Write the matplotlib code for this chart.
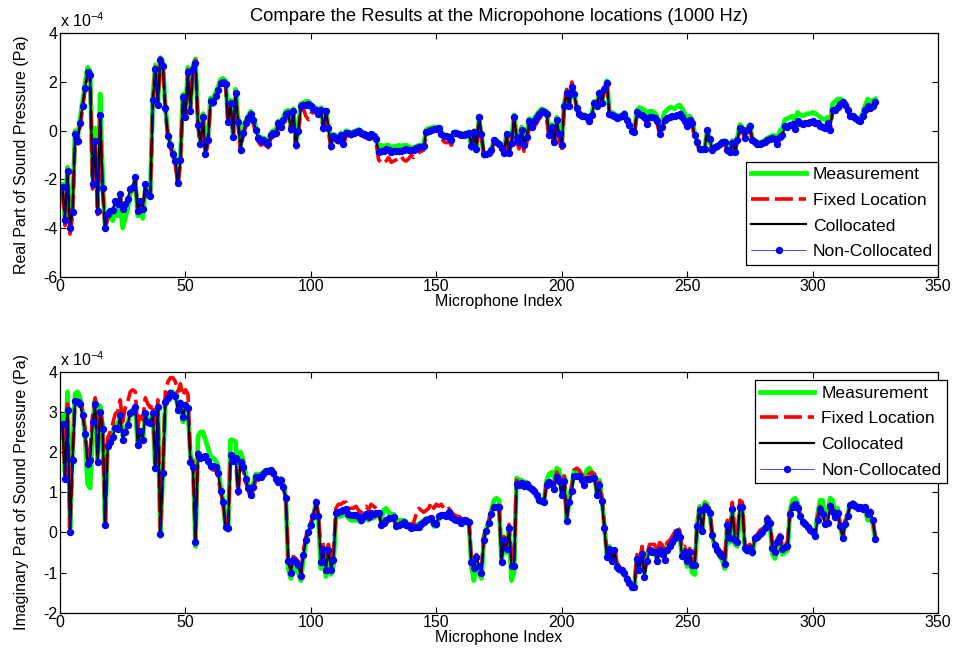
import numpy as np
import matplotlib.pyplot as plt

plt.rcParams['font.family'] = ['Liberation Sans', 'DejaVu Sans']
plt.rcParams['mathtext.fontset'] = 'custom'
plt.rcParams['mathtext.rm'] = 'Liberation Sans'
plt.rcParams['axes.unicode_minus'] = False

"""
data (values in units of 1e-4 Pa, one value per microphone)
"""

title = 'Compare the Results at the Micropohone locations (1000 Hz)'
labels = ['Measurement', 'Fixed Location', 'Collocated', 'Non-Collocated']

# --- real part ---
measurement_re = [
    -2.2, -3.5, -1.5, -3.9, -3.2, 0.0, -0.3, 0.5, 1.2, 1.95,
    2.6, 2.45, -1.9, 0.1, -3.1, 1.5, -2.0, -3.9, -3.6, -3.5,
    -3.7, -3.3, -3.5, -3.0, -4.0, -3.6, -3.2, -2.6, -2.4, -2.0,
    -3.5, -3.3, -3.6, -2.4, -2.7, -2.6, 1.4, 2.7, 1.2, 3.0,
    2.8, 1.0, -0.1, -0.5, -0.85, -1.1, -2.0, -1.1, 1.5, 0.7,
    2.6, 1.0, 2.65, 2.95, 0.4, -0.4, 0.7, -0.8, -0.25, 1.35,
    1.3, 1.55, 1.8, 2.1, 2.15, 2.05, 0.5, 1.25, -0.1, 1.7,
    0.5, -0.6, 0.05, 0.4, 0.6, 0.8, 0.55, 0.15, -0.2, -0.3,
    -0.3, -0.35, -0.45, -0.1, 0.0, 0.0, 0.4, 0.3, 0.55, 0.8,
    0.85, 0.2, 0.9, -0.5, 0.1, 1.1, 1.15, 1.2, 1.2, 1.1,
    1.0, 0.95, 0.8, 0.95, 0.2, 0.85, 0.2, -0.55, -0.15, -0.2,
    -0.3, -0.1, -0.45, 0.0, -0.05, -0.1, -0.05, 0.0, 0.05, -0.05,
    -0.1, -0.15, -0.2, -0.1, -0.15, -0.3, -0.75, -0.6, -0.65, -0.6,
    -0.6, -0.7, -0.65, -0.65, -0.6, -0.65, -0.6, -0.6, -0.65, -0.7,
    -0.7, -0.65, -0.6, -0.6, -0.55, 0.05, 0.1, 0.12, 0.15, 0.15,
    0.15, -0.1, -0.2, -0.2, -0.2, -0.35, -0.05, -0.05, -0.1, -0.15,
    -0.1, -0.1, -0.05, -0.7, 0.0, -0.85, 0.5, -0.2, -1.05, -1.0,
    -0.95, -0.8, -0.35, -0.4, -0.5, -0.7, -0.9, -0.1, -0.85, -0.4,
    0.65, -0.15, -0.35, 0.15, -0.45, -0.1, 0.5, 0.3, 0.5, 0.65,
    0.8, 0.9, 0.85, 0.8, -0.05, 0.25, -0.35, 0.55, 0.0, -0.45,
    1.1, 1.6, 1.05, 1.8, 1.5, 0.95, 0.75, 0.65, 0.65, 0.6,
    0.45, 0.7, 1.2, 1.05, 1.6, 1.2, 1.75, 2.05, 0.8, 0.75,
    0.7, 0.6, 0.6, 0.65, 0.75, 0.5, 0.3, 0.1, 0.05, 0.85,
    0.95, 0.9, 0.85, 0.5, 0.8, 0.8, 0.75, 0.6, 0.1, 0.4,
    0.75, 0.85, 0.95, 0.95, 0.9, 1.0, 1.05, 0.9, 0.7, 0.4,
    0.6, 0.45, -0.1, -0.45, -0.8, -0.8, -0.75, 0.05, -0.4, -0.8,
    -0.7, -0.65, -0.55, -0.45, -0.4, -0.75, -0.8, -0.4, -0.75, -0.3,
    0.25, 0.15, -0.2, 0.1, 0.25, -0.3, -0.4, -0.5, -0.5, -0.45,
    -0.4, -0.3, -0.25, -0.2, -0.2, -0.35, 0.0, 0.1, 0.45, 0.5,
    0.55, 0.6, 0.4, 0.75, 0.65, 0.6, 0.65, 0.7, 0.7, 0.75,
    0.7, 0.65, 0.55, 0.5, 0.45, 0.55, 0.4, 1.1, 1.2, 1.3,
    1.3, 1.25, 1.15, 0.95, 0.7, 0.6, 0.5, 0.45, 0.45, 0.75,
    1.05, 1.3, 1.2, 1.25, 1.3,
]

fixed_re = [
    -2.5, -3.9, -1.8, -4.25, -3.5, -0.3, -0.55, 0.2, 0.9, 1.7,
    2.35, 2.2, -2.4, -0.6, -3.45, 0.5, -2.5, -4.1, -3.6, -3.4,
    -3.3, -3.0, -3.05, -2.65, -3.25, -3.05, -2.85, -2.5, -2.4, -2.0,
    -3.35, -2.95, -3.25, -2.25, -2.65, -2.75, 1.2, 2.6, 1.0, 3.0,
    2.75, 0.85, -0.3, -0.7, -1.05, -1.4, -2.3, -1.35, 1.3, 0.5,
    2.5, 0.75, 2.6, 2.9, 0.15, -0.65, 0.45, -1.05, -0.5, 1.1,
    1.05, 1.35, 1.6, 1.9, 1.95, 1.85, 0.25, 1.05, -0.35, 1.5,
    0.25, -0.9, -0.2, 0.15, 0.35, 0.55, 0.3, -0.1, -0.45, -0.6,
    -0.55, -0.6, -0.7, -0.35, -0.25, -0.2, 0.15, 0.05, 0.3, 0.6,
    0.6, -0.05, 0.7, -0.7, -0.1, 0.9, 0.9, 0.6, 0.45, 0.7,
    0.75, 0.75, 0.6, 0.75, 0.0, 0.7, 0.0, -0.75, -0.35, -0.45,
    -0.5, -0.3, -0.65, -0.2, -0.2, -0.25, -0.2, -0.15, -0.1, -0.2,
    -0.25, -0.3, -0.35, -0.25, -0.3, -0.5, -1.2, -1.3, -1.35, -1.25,
    -1.1, -1.3, -1.25, -1.2, -1.15, -1.05, -1.2, -1.25, -1.15, -1.0,
    -1.1, -1.0, -0.9, -0.85, -0.8, -0.05, -0.05, 0.0, 0.0, 0.05,
    0.0, -0.3, -0.45, -0.5, -0.45, -0.6, -0.2, -0.15, -0.2, -0.25,
    -0.25, -0.2, -0.2, -0.75, -0.1, -0.85, 0.6, -0.25, -1.0, -0.95,
    -0.95, -0.85, -0.45, -0.5, -0.6, -0.8, -1.0, -0.25, -0.95, -0.55,
    0.45, -0.45, -0.75, -0.2, -0.85, -0.55, 0.1, -0.05, 0.15, 0.3,
    0.5, 0.6, 0.55, 0.5, -0.4, -0.05, -0.7, 0.2, -0.35, -0.85,
    0.95, 1.7, 1.05, 2.0, 1.6, 0.85, 0.6, 0.5, 0.45, 0.45,
    0.3, 0.55, 1.1, 0.95, 1.5, 1.1, 1.75, 1.95, 0.65, 0.6,
    0.55, 0.45, 0.5, 0.55, 0.6, 0.35, 0.15, -0.1, -0.1, 0.65,
    0.6, 0.55, 0.5, 0.2, 0.55, 0.5, 0.5, 0.35, -0.2, 0.1,
    0.4, 0.45, 0.55, 0.55, 0.55, 0.6, 0.6, 0.5, 0.3, 0.1,
    0.35, 0.2, -0.3, -0.6, -0.8, -0.8, -0.8, -0.05, -0.45, -0.85,
    -0.75, -0.7, -0.6, -0.5, -0.5, -0.85, -0.95, -0.55, -0.95, -0.45,
    0.05, 0.0, -0.35, -0.05, 0.1, -0.45, -0.55, -0.6, -0.6, -0.55,
    -0.5, -0.45, -0.4, -0.4, -0.4, -0.6, -0.3, -0.25, 0.1, 0.1,
    0.15, 0.2, 0.0, 0.3, 0.25, 0.2, 0.25, 0.25, 0.25, 0.3,
    0.25, 0.2, 0.15, 0.1, 0.05, 0.2, 0.0, 0.75, 0.8, 0.9,
    1.05, 1.1, 1.0, 0.8, 0.55, 0.55, 0.45, 0.4, 0.35, 0.55,
    0.8, 0.95, 0.9, 0.95, 1.1,
]

# collocated and non-collocated overlap almost exactly in the picture
collocated_re = [
    -2.3, -3.65, -1.67, -4.0, -3.35, -0.15, -0.43, 0.3, 1.0, 1.76,
    2.4, 2.28, -2.2, -0.43, -3.3, 0.64, -2.36, -4.0, -3.42, -3.3,
    -3.24, -2.9, -3.0, -2.6, -3.2, -3.0, -2.8, -2.4, -2.3, -1.9,
    -3.3, -2.9, -3.2, -2.2, -2.6, -2.7, 1.25, 2.55, 1.07, 2.9,
    2.67, 0.93, -0.2, -0.6, -0.94, -1.26, -2.17, -1.22, 1.37, 0.58,
    2.43, 0.82, 2.53, 2.8, 0.24, -0.56, 0.56, -0.97, -0.39, 1.2,
    1.17, 1.44, 1.67, 1.97, 2.0, 1.92, 0.35, 1.14, -0.25, 1.56,
    0.35, -0.8, -0.08, 0.3, 0.5, 0.69, 0.44, 0.03, -0.3, -0.43,
    -0.39, -0.45, -0.56, -0.18, -0.1, -0.08, 0.3, 0.17, 0.44, 0.69,
    0.72, 0.06, 0.8, -0.6, 0.0, 1.0, 1.05, 1.07, 1.1, 1.0,
    0.9, 0.86, 0.7, 0.86, 0.1, 0.8, 0.1, -0.64, -0.22, -0.3,
    -0.39, -0.18, -0.53, -0.08, -0.1, -0.14, -0.11, -0.05, 0.0, -0.08,
    -0.12, -0.18, -0.25, -0.14, -0.2, -0.36, -0.88, -0.85, -0.83, -0.74,
    -0.8, -0.88, -0.85, -0.83, -0.83, -0.83, -0.78, -0.74, -0.78, -0.78,
    -0.78, -0.7, -0.67, -0.67, -0.64, -0.04, 0.0, 0.03, 0.06, 0.08,
    0.1, -0.14, -0.22, -0.22, -0.25, -0.39, -0.08, -0.1, -0.14, -0.18,
    -0.16, -0.14, -0.11, -0.64, -0.04, -0.74, 0.58, -0.14, -0.94, -0.94,
    -0.9, -0.78, -0.39, -0.45, -0.53, -0.7, -0.92, -0.14, -0.92, -0.5,
    0.56, -0.25, -0.46, 0.03, -0.6, -0.25, 0.38, 0.17, 0.38, 0.55,
    0.7, 0.8, 0.75, 0.7, -0.18, 0.14, -0.46, 0.42, -0.14, -0.6,
    1.03, 1.56, 1.0, 1.8, 1.49, 0.93, 0.7, 0.61, 0.6, 0.58,
    0.4, 0.65, 1.14, 1.0, 1.56, 1.14, 1.7, 1.94, 0.7, 0.65,
    0.61, 0.51, 0.55, 0.61, 0.7, 0.42, 0.24, 0.0, -0.04, 0.75,
    0.7, 0.65, 0.58, 0.28, 0.58, 0.55, 0.51, 0.38, -0.14, 0.14,
    0.42, 0.5, 0.58, 0.61, 0.61, 0.65, 0.7, 0.58, 0.4, 0.19,
    0.42, 0.3, -0.18, -0.46, -0.74, -0.74, -0.74, 0.03, -0.36, -0.78,
    -0.67, -0.64, -0.55, -0.46, -0.46, -0.8, -0.88, -0.5, -0.88, -0.4,
    0.1, 0.03, -0.3, 0.03, 0.19, -0.39, -0.46, -0.53, -0.56, -0.5,
    -0.46, -0.4, -0.36, -0.32, -0.36, -0.53, -0.25, -0.18, 0.19, 0.17,
    0.22, 0.28, 0.06, 0.38, 0.3, 0.28, 0.3, 0.33, 0.35, 0.38,
    0.3, 0.3, 0.19, 0.15, 0.1, 0.3, 0.03, 0.86, 0.86, 0.97,
    1.1, 1.17, 1.07, 0.86, 0.61, 0.61, 0.51, 0.42, 0.38, 0.61,
    0.86, 1.0, 0.93, 1.0, 1.17,
]

noncollocated_re = [
    -2.3, -3.65, -1.67, -4.0, -3.35, -0.15, -0.43, 0.3, 1.0, 1.76,
    2.4, 2.28, -2.2, -0.43, -3.3, 0.64, -2.36, -4.0, -3.42, -3.3,
    -3.24, -2.9, -3.0, -2.6, -3.2, -3.0, -2.8, -2.4, -2.3, -1.9,
    -3.3, -2.9, -3.2, -2.2, -2.6, -2.7, 1.25, 2.55, 1.07, 2.9,
    2.67, 0.93, -0.2, -0.6, -0.94, -1.26, -2.17, -1.22, 1.37, 0.58,
    2.43, 0.82, 2.53, 2.8, 0.24, -0.56, 0.56, -0.97, -0.39, 1.2,
    1.17, 1.44, 1.67, 1.97, 2.0, 1.92, 0.35, 1.14, -0.25, 1.56,
    0.35, -0.8, -0.08, 0.3, 0.5, 0.69, 0.44, 0.03, -0.3, -0.43,
    -0.39, -0.45, -0.56, -0.18, -0.1, -0.08, 0.3, 0.17, 0.44, 0.69,
    0.72, 0.06, 0.8, -0.6, 0.0, 1.0, 1.05, 1.07, 1.1, 1.0,
    0.9, 0.86, 0.7, 0.86, 0.1, 0.8, 0.1, -0.64, -0.22, -0.3,
    -0.39, -0.18, -0.53, -0.08, -0.1, -0.14, -0.11, -0.05, 0.0, -0.08,
    -0.12, -0.18, -0.25, -0.14, -0.2, -0.36, -0.88, -0.85, -0.83, -0.74,
    -0.8, -0.88, -0.85, -0.83, -0.83, -0.83, -0.78, -0.74, -0.78, -0.78,
    -0.78, -0.7, -0.67, -0.67, -0.64, -0.04, 0.0, 0.03, 0.06, 0.08,
    0.1, -0.14, -0.22, -0.22, -0.25, -0.39, -0.08, -0.1, -0.14, -0.18,
    -0.16, -0.14, -0.11, -0.64, -0.04, -0.74, 0.58, -0.14, -0.94, -0.94,
    -0.9, -0.78, -0.39, -0.45, -0.53, -0.7, -0.92, -0.14, -0.92, -0.5,
    0.56, -0.25, -0.46, 0.03, -0.6, -0.25, 0.38, 0.17, 0.38, 0.55,
    0.7, 0.8, 0.75, 0.7, -0.18, 0.14, -0.46, 0.42, -0.14, -0.6,
    1.03, 1.56, 1.0, 1.8, 1.49, 0.93, 0.7, 0.61, 0.6, 0.58,
    0.4, 0.65, 1.14, 1.0, 1.56, 1.14, 1.7, 1.94, 0.7, 0.65,
    0.61, 0.51, 0.55, 0.61, 0.7, 0.42, 0.24, 0.0, -0.04, 0.75,
    0.7, 0.65, 0.58, 0.28, 0.58, 0.55, 0.51, 0.38, -0.14, 0.14,
    0.42, 0.5, 0.58, 0.61, 0.61, 0.65, 0.7, 0.58, 0.4, 0.19,
    0.42, 0.3, -0.18, -0.46, -0.74, -0.74, -0.74, 0.03, -0.36, -0.78,
    -0.67, -0.64, -0.55, -0.46, -0.46, -0.8, -0.88, -0.5, -0.88, -0.4,
    0.1, 0.03, -0.3, 0.03, 0.19, -0.39, -0.46, -0.53, -0.56, -0.5,
    -0.46, -0.4, -0.36, -0.32, -0.36, -0.53, -0.25, -0.18, 0.19, 0.17,
    0.22, 0.28, 0.06, 0.38, 0.3, 0.28, 0.3, 0.33, 0.35, 0.38,
    0.3, 0.3, 0.19, 0.15, 0.1, 0.3, 0.03, 0.86, 0.86, 0.97,
    1.1, 1.17, 1.07, 0.86, 0.61, 0.61, 0.51, 0.42, 0.38, 0.61,
    0.86, 1.0, 0.93, 1.0, 1.17,
]

# --- imaginary part ---
measurement_im = [
    2.9, 1.5, 3.5, 0.1, 2.0, 3.45, 3.5, 3.35, 3.0, 2.4,
    1.2, 1.1, 2.7, 3.3, 1.7, 3.15, 2.6, 0.2, 2.2, 2.35,
    2.5, 2.7, 2.65, 2.95, 2.4, 2.55, 2.7, 3.0, 3.05, 3.15,
    2.15, 2.5, 2.3, 2.95, 2.8, 2.7, 3.0, 1.55, 3.15, -0.1,
    1.5, 3.3, 3.4, 3.5, 3.5, 3.45, 3.1, 3.25, 2.75, 3.0,
    3.0, 1.9, 1.8, -0.35, 2.4, 2.5, 2.5, 2.3, 2.1, 1.9,
    1.85, 1.8, 1.65, 1.15, 0.8, 0.1, 0.05, 2.3, 2.3, 2.25,
    1.3, 2.0, 1.8, 1.45, 1.2, 1.0, 1.2, 1.45, 1.45, 1.45,
    1.5, 1.55, 1.55, 1.55, 1.5, 1.35, 1.3, 1.35, 1.2, 0.9,
    -0.9, -1.15, -0.85, -0.95, -1.0, -1.2, -0.65, -0.25, 0.0, 0.15,
    0.4, 0.75, 0.35, -0.9, -0.55, -1.1, -0.55, -1.05, -0.8, 0.35,
    0.4, 0.4, 0.45, 0.45, 0.35, 0.3, 0.3, 0.3, 0.3, 0.25,
    0.3, 0.35, 0.3, 0.4, 0.35, 0.4, 0.45, 0.3, 0.55, 0.6,
    0.5, 0.45, 0.45, 0.3, 0.3, 0.3, 0.3, 0.25, 0.2, 0.2,
    0.2, 0.2, 0.2, 0.25, 0.3, 0.35, 0.3, 0.3, 0.15, 0.15,
    0.35, 0.4, 0.4, 0.4, 0.45, 0.35, 0.3, 0.3, 0.3, 0.25,
    0.3, 0.25, 0.25, -0.85, -1.2, -0.7, -1.0, -1.15, -0.1, 0.1,
    0.3, 0.55, 0.8, 0.85, 0.8, -0.7, -0.3, -0.5, 0.05, -1.2,
    -1.0, 1.35, 1.3, 1.3, 1.25, 1.25, 1.15, 1.05, 1.0, 0.9,
    0.75, 0.75, 0.8, 1.3, 1.45, 1.5, 1.35, 1.6, 1.55, 1.0,
    1.4, 0.3, 0.8, 1.15, 1.55, 1.5, 1.45, 1.4, 1.3, 1.55,
    1.6, 1.5, 1.45, 1.0, 1.3, 0.85, 0.15, -0.55, -0.35, -0.65,
    -0.45, -0.9, -0.95, -1.0, -1.05, -1.2, -1.25, -1.3, -1.3, -0.6,
    -0.85, -0.45, -1.0, -0.6, -0.4, -0.45, -0.45, -0.65, -0.4, -0.5,
    -0.6, -0.35, -0.3, -0.2, -0.1, 0.05, -0.1, -0.6, -0.55, -0.85,
    -0.65, -1.0, -1.05, 0.2, 0.65, 0.05, 0.75, 0.7, 0.5, -0.1,
    -0.35, -0.5, -0.6, -0.7, -0.9, 0.15, -0.25, 0.6, -0.3, -0.35,
    0.55, 0.55, -0.45, -0.5, -0.45, -0.55, -0.2, -0.15, -0.1, 0.0,
    0.1, 0.3, 0.2, -0.55, -0.65, -0.4, -0.3, -0.55, -0.5, -0.45,
    0.55, 0.8, 0.85, 0.75, 0.45, 0.3, 0.25, 0.15, 0.05, 0.0,
    -0.05, 0.45, 0.8, 0.8, 0.35, 0.45, 0.85, 0.8, 0.45, 0.6,
    0.15, -0.15, 0.25, 0.45, 0.7, 0.75, 0.7, 0.65, 0.65, 0.6,
    0.55, 0.3, 0.4, 0.2, -0.15,
]

fixed_im = [
    2.75, 1.4, 3.2, 0.05, 1.9, 3.3, 3.3, 3.25, 3.0, 2.6,
    1.8, 2.0, 2.95, 3.35, 1.9, 3.1, 2.7, 0.2, 2.35, 2.5,
    2.7, 2.95, 3.0, 3.3, 2.75, 3.1, 3.25, 3.5, 3.55, 3.5,
    2.6, 3.0, 2.8, 3.35, 3.2, 3.1, 3.2, 1.7, 3.3, -0.05,
    1.55, 3.5, 3.75, 3.85, 3.85, 3.75, 3.5, 3.7, 3.4, 3.55,
    3.45, 1.85, 1.75, -0.2, 2.0, 1.9, 1.9, 1.85, 1.75, 1.6,
    1.55, 1.55, 1.4, 1.0, 0.75, 0.15, 0.1, 1.95, 1.75, 1.8,
    0.95, 1.7, 1.55, 1.25, 1.05, 0.85, 1.05, 1.3, 1.3, 1.3,
    1.4, 1.45, 1.5, 1.5, 1.45, 1.3, 1.2, 1.25, 1.1, 0.85,
    -0.65, -0.9, -0.6, -0.65, -0.75, -1.0, -0.45, -0.1, 0.1, 0.25,
    0.45, 0.8, 0.45, -0.5, -0.3, -0.55, -0.3, -0.6, -0.5, 0.6,
    0.7, 0.7, 0.75, 0.75, 0.6, 0.6, 0.6, 0.65, 0.55, 0.5,
    0.6, 0.65, 0.55, 0.7, 0.65, 0.6, 0.55, 0.25, 0.2, 0.3,
    0.3, 0.35, 0.35, 0.1, 0.15, 0.2, 0.25, 0.2, 0.2, 0.2,
    0.25, 0.45, 0.6, 0.55, 0.5, 0.55, 0.6, 0.75, 0.6, 0.7,
    0.65, 0.7, 0.6, 0.55, 0.6, 0.5, 0.45, 0.4, 0.4, 0.35,
    0.4, 0.35, 0.3, -0.7, -0.8, -0.55, -0.75, -0.9, -0.1, 0.1,
    0.3, 0.5, 0.7, 0.7, 0.65, -0.6, -0.1, -0.3, 0.2, -0.7,
    -0.75, 1.3, 1.25, 1.25, 1.2, 1.2, 1.15, 1.1, 1.05, 0.95,
    0.85, 0.8, 0.8, 1.25, 1.3, 1.3, 1.2, 1.5, 1.4, 1.0,
    1.4, 0.35, 0.85, 1.15, 1.55, 1.6, 1.55, 1.45, 1.35, 1.5,
    1.45, 1.5, 1.45, 1.0, 1.25, 0.85, 0.2, -0.5, -0.3, -0.6,
    -0.35, -0.75, -0.85, -0.9, -1.0, -1.1, -1.2, -1.3, -1.3, -0.55,
    -0.8, -0.35, -0.95, -0.55, -0.3, -0.3, -0.3, -0.5, -0.25, -0.3,
    -0.45, -0.25, -0.2, -0.1, 0.0, 0.15, 0.05, -0.4, -0.35, -0.55,
    -0.4, -0.7, -0.7, 0.2, 0.6, 0.1, 0.7, 0.65, 0.55, 0.0,
    -0.25, -0.35, -0.45, -0.5, -0.7, 0.3, 0.0, 0.75, 0.0, -0.1,
    0.8, 0.75, -0.3, -0.35, -0.3, -0.4, -0.1, -0.05, 0.05, 0.1,
    0.2, 0.4, 0.3, -0.3, -0.4, -0.15, -0.05, -0.35, -0.3, -0.25,
    0.5, 0.7, 0.75, 0.65, 0.45, 0.3, 0.25, 0.2, 0.1, 0.05,
    -0.05, 0.4, 0.65, 0.55, 0.25, 0.3, 0.7, 0.6, 0.45, 0.55,
    0.2, -0.1, 0.3, 0.45, 0.7, 0.75, 0.7, 0.65, 0.65, 0.65,
    0.65, 0.5, 0.55, 0.35, -0.1,
]

collocated_im = [
    2.7, 1.32, 3.05, 0.02, 1.81, 3.27, 3.25, 3.19, 2.91, 2.45,
    1.71, 1.8, 2.74, 3.2, 1.75, 3.0, 2.57, 0.18, 2.15, 2.25,
    2.37, 2.6, 2.58, 2.91, 2.31, 2.5, 2.68, 2.97, 3.02, 3.13,
    2.17, 2.53, 2.31, 2.97, 2.75, 2.72, 2.97, 1.61, 3.11, -0.04,
    1.49, 3.24, 3.35, 3.46, 3.43, 3.4, 3.05, 3.21, 2.86, 3.17,
    3.09, 1.74, 1.63, -0.25, 1.96, 1.86, 1.88, 1.9, 1.78, 1.66,
    1.65, 1.63, 1.49, 1.04, 0.75, 0.14, 0.1, 1.93, 1.78, 1.86,
    1.02, 1.76, 1.63, 1.33, 1.11, 0.92, 1.14, 1.39, 1.38, 1.37,
    1.45, 1.52, 1.54, 1.55, 1.49, 1.33, 1.25, 1.3, 1.12, 0.86,
    -0.72, -1.0, -0.68, -0.75, -0.8, -1.09, -0.56, -0.19, 0.02, 0.18,
    0.4, 0.75, 0.4, -0.75, -0.42, -0.94, -0.43, -0.93, -0.68, 0.48,
    0.51, 0.53, 0.56, 0.59, 0.45, 0.43, 0.42, 0.43, 0.38, 0.32,
    0.4, 0.45, 0.39, 0.48, 0.45, 0.47, 0.48, 0.18, 0.24, 0.32,
    0.35, 0.37, 0.39, 0.16, 0.18, 0.22, 0.26, 0.18, 0.15, 0.12,
    0.14, 0.14, 0.14, 0.2, 0.25, 0.3, 0.34, 0.37, 0.24, 0.2,
    0.4, 0.43, 0.42, 0.4, 0.51, 0.39, 0.34, 0.32, 0.3, 0.24,
    0.3, 0.28, 0.26, -0.75, -0.89, -0.61, -0.83, -1.0, -0.19, 0.04,
    0.24, 0.45, 0.63, 0.63, 0.63, -0.75, -0.2, -0.42, 0.1, -0.84,
    -0.84, 1.2, 1.19, 1.22, 1.16, 1.2, 1.12, 1.08, 1.04, 0.92,
    0.8, 0.78, 0.75, 1.19, 1.25, 1.2, 1.08, 1.37, 1.27, 0.92,
    1.29, 0.29, 0.75, 1.04, 1.41, 1.41, 1.41, 1.3, 1.19, 1.33,
    1.34, 1.35, 1.35, 0.94, 1.19, 0.78, 0.12, -0.61, -0.42, -0.72,
    -0.45, -0.86, -0.9, -0.93, -1.02, -1.16, -1.25, -1.35, -1.35, -0.66,
    -0.94, -0.53, -1.1, -0.72, -0.45, -0.48, -0.5, -0.72, -0.45, -0.53,
    -0.68, -0.43, -0.35, -0.25, -0.15, 0.02, -0.11, -0.58, -0.5, -0.72,
    -0.5, -0.8, -0.8, 0.16, 0.55, 0.04, 0.63, 0.59, 0.48, -0.07,
    -0.31, -0.43, -0.53, -0.6, -0.78, 0.18, -0.15, 0.57, -0.19, -0.23,
    0.63, 0.63, -0.39, -0.45, -0.39, -0.5, -0.15, -0.11, -0.05, 0.0,
    0.1, 0.34, 0.24, -0.39, -0.48, -0.23, -0.12, -0.42, -0.37, -0.35,
    0.45, 0.63, 0.7, 0.61, 0.4, 0.26, 0.22, 0.14, 0.07, 0.0,
    -0.09, 0.32, 0.57, 0.45, 0.2, 0.24, 0.65, 0.51, 0.39, 0.48,
    0.15, -0.15, 0.22, 0.4, 0.67, 0.7, 0.65, 0.61, 0.63, 0.59,
    0.63, 0.45, 0.51, 0.31, -0.16,
]

noncollocated_im = [
    2.7, 1.32, 3.05, 0.02, 1.81, 3.27, 3.25, 3.19, 2.91, 2.45,
    1.71, 1.8, 2.74, 3.2, 1.75, 3.0, 2.57, 0.18, 2.15, 2.25,
    2.37, 2.6, 2.58, 2.91, 2.31, 2.5, 2.68, 2.97, 3.02, 3.13,
    2.17, 2.53, 2.31, 2.97, 2.75, 2.72, 2.97, 1.61, 3.11, -0.04,
    1.49, 3.24, 3.35, 3.46, 3.43, 3.4, 3.05, 3.21, 2.86, 3.17,
    3.09, 1.74, 1.63, -0.25, 1.96, 1.86, 1.88, 1.9, 1.78, 1.66,
    1.65, 1.63, 1.49, 1.04, 0.75, 0.14, 0.1, 1.93, 1.78, 1.86,
    1.02, 1.76, 1.63, 1.33, 1.11, 0.92, 1.14, 1.39, 1.38, 1.37,
    1.45, 1.52, 1.54, 1.55, 1.49, 1.33, 1.25, 1.3, 1.12, 0.86,
    -0.72, -1.0, -0.68, -0.75, -0.8, -1.09, -0.56, -0.19, 0.02, 0.18,
    0.4, 0.75, 0.4, -0.75, -0.42, -0.94, -0.43, -0.93, -0.68, 0.48,
    0.51, 0.53, 0.56, 0.59, 0.45, 0.43, 0.42, 0.43, 0.38, 0.32,
    0.4, 0.45, 0.39, 0.48, 0.45, 0.47, 0.48, 0.18, 0.24, 0.32,
    0.35, 0.37, 0.39, 0.16, 0.18, 0.22, 0.26, 0.18, 0.15, 0.12,
    0.14, 0.14, 0.14, 0.2, 0.25, 0.3, 0.34, 0.37, 0.24, 0.2,
    0.4, 0.43, 0.42, 0.4, 0.51, 0.39, 0.34, 0.32, 0.3, 0.24,
    0.3, 0.28, 0.26, -0.75, -0.89, -0.61, -0.83, -1.0, -0.19, 0.04,
    0.24, 0.45, 0.63, 0.63, 0.63, -0.75, -0.2, -0.42, 0.1, -0.84,
    -0.84, 1.2, 1.19, 1.22, 1.16, 1.2, 1.12, 1.08, 1.04, 0.92,
    0.8, 0.78, 0.75, 1.19, 1.25, 1.2, 1.08, 1.37, 1.27, 0.92,
    1.29, 0.29, 0.75, 1.04, 1.41, 1.41, 1.41, 1.3, 1.19, 1.33,
    1.34, 1.35, 1.35, 0.94, 1.19, 0.78, 0.12, -0.61, -0.42, -0.72,
    -0.45, -0.86, -0.9, -0.93, -1.02, -1.16, -1.25, -1.35, -1.35, -0.66,
    -0.94, -0.53, -1.1, -0.72, -0.45, -0.48, -0.5, -0.72, -0.45, -0.53,
    -0.68, -0.43, -0.35, -0.25, -0.15, 0.02, -0.11, -0.58, -0.5, -0.72,
    -0.5, -0.8, -0.8, 0.16, 0.55, 0.04, 0.63, 0.59, 0.48, -0.07,
    -0.31, -0.43, -0.53, -0.6, -0.78, 0.18, -0.15, 0.57, -0.19, -0.23,
    0.63, 0.63, -0.39, -0.45, -0.39, -0.5, -0.15, -0.11, -0.05, 0.0,
    0.1, 0.34, 0.24, -0.39, -0.48, -0.23, -0.12, -0.42, -0.37, -0.35,
    0.45, 0.63, 0.7, 0.61, 0.4, 0.26, 0.22, 0.14, 0.07, 0.0,
    -0.09, 0.32, 0.57, 0.45, 0.2, 0.24, 0.65, 0.51, 0.39, 0.48,
    0.15, -0.15, 0.22, 0.4, 0.67, 0.7, 0.65, 0.61, 0.63, 0.59,
    0.63, 0.45, 0.51, 0.31, -0.16,
]

"""
plotting
"""

FS = 11.5


def plot_panel(ax, series, ylim, yticks, ylabel):
    meas, fixed, coll, noncoll = series
    ax.plot(np.arange(1, len(meas) + 1), meas, color=(0, 1, 0), lw=3.4, label=labels[0])
    ax.plot(np.arange(1, len(fixed) + 1), fixed, color=(1, 0, 0), lw=2.6, ls='--',
            dashes=(5, 1.6), label=labels[1])
    ax.plot(np.arange(1, len(coll) + 1), coll, color='k', lw=1.6, label=labels[2])
    ax.plot(np.arange(1, len(noncoll) + 1), noncoll, color=(0, 0, 1), lw=0.5,
            marker='o', ms=4.3, label=labels[3])
    ax.set_xlim(0, 350)
    ax.set_ylim(*ylim)
    ax.set_xticks(np.arange(0, 351, 50))
    ax.set_yticks(yticks)
    ax.set_yticklabels([str(t) for t in yticks])
    ax.tick_params(direction='in', top=True, right=True, length=4, width=0.8,
                   labelsize=FS, pad=2)
    for s in ax.spines.values():
        s.set_linewidth(0.9)
    ax.set_xlabel('Microphone Index', fontsize=FS, labelpad=0)
    ax.set_ylabel(ylabel, fontsize=FS, labelpad=10)
    ax.text(0.0, 1.012, r'x 10$^{-4}$', transform=ax.transAxes, fontsize=FS,
            ha='left', va='bottom')


fig = plt.figure(figsize=(9.64, 6.66), dpi=100)
ax1 = fig.add_axes([60 / 964, 1 - 276.7 / 666, 878 / 964, 243.4 / 666])
ax2 = fig.add_axes([60 / 964, 1 - 612.7 / 666, 878 / 964, 241 / 666])

plot_panel(ax1, (measurement_re, fixed_re, collocated_re, noncollocated_re),
           (-6, 4), [-6, -4, -2, 0, 2, 4], 'Real Part of Sound Pressure (Pa)')
plot_panel(ax2, (measurement_im, fixed_im, collocated_im, noncollocated_im),
           (-2, 4), [-2, -1, 0, 1, 2, 3, 4], 'Imaginary Part of Sound Pressure (Pa)')

ax1.set_title(title, fontsize=13.2, pad=9)

leg_kw = dict(fontsize=12.6, frameon=True, fancybox=False, edgecolor='k',
              framealpha=1, borderaxespad=0, handlelength=3.1, handletextpad=0.4,
              labelspacing=0.6, borderpad=0.3)
l1 = ax1.legend(loc='lower right', bbox_to_anchor=(1.0, 0.05), **leg_kw)
l2 = ax2.legend(loc='upper right', bbox_to_anchor=(1.01, 0.965), **leg_kw)
for lg in (l1, l2):
    lg.get_frame().set_linewidth(0.9)

fig.savefig('out.png', dpi=100)
